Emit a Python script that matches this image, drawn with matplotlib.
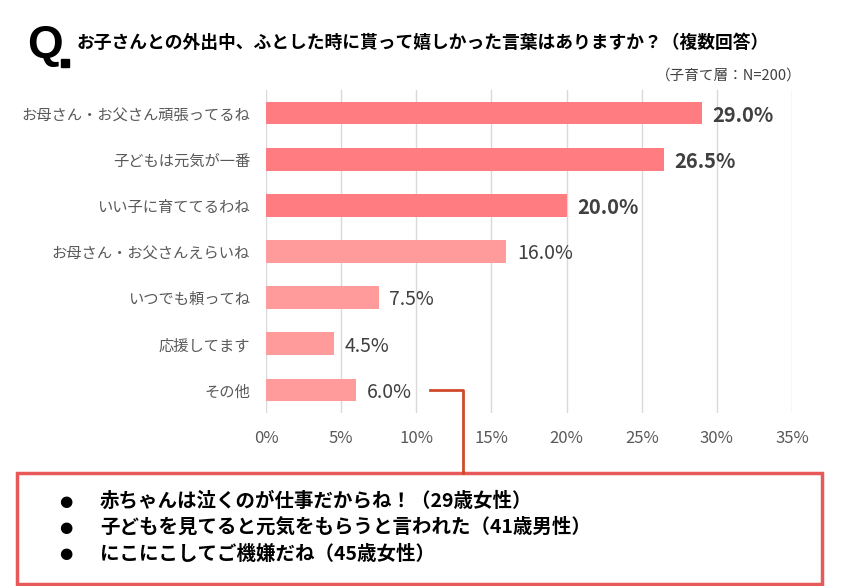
import matplotlib
matplotlib.use("Agg")
import matplotlib.pyplot as plt
from matplotlib.patches import Rectangle
from matplotlib.lines import Line2D

plt.rcParams['font.family'] = ['Noto Sans CJK JP', 'DejaVu Sans']

categories = ["お母さん・お父さん頑張ってるね", "子どもは元気が一番", "いい子に育ててるわね",
              "お母さん・お父さんえらいね", "いつでも頼ってね", "応援してます", "その他"]
values = [29.0, 26.5, 20.0, 16.0, 7.5, 4.5, 6.0]
highlight = [True, True, True, False, False, False, False]
xticks = [0, 5, 10, 15, 20, 25, 30, 35]
title = "お子さんとの外出中、ふとした時に貰って嬉しかった言葉はありますか？（複数回答）"
note = "（子育て層：N=200）"
comments = ["赤ちゃんは泣くのが仕事だからね！（29歳女性）",
            "子どもを見てると元気をもらうと言われた（41歳男性）",
            "にこにこしてご機嫌だね（45歳女性）"]

W, H = 848, 586
fig = plt.figure(figsize=(W/100, H/100), dpi=100)
ax = fig.add_axes([266/W, 1-413/H, 526/W, 323/H])

ypos = list(range(len(categories)))
colors = ["#FF7C80" if h else "#FF9B9B" for h in highlight]
ax.barh(ypos, values, height=0.49, color=colors, zorder=3)
ax.set_ylim(len(categories)-0.5, -0.5)
ax.set_xlim(0, 35)
ax.set_xticks(xticks)
ax.set_xticklabels([f"{t}%" for t in xticks], color="#595959", fontsize=12)
ax.set_yticks(ypos)
ax.set_yticklabels(categories, color="#595959", fontsize=11)
ax.tick_params(axis='both', length=0)
ax.tick_params(axis='y', pad=11.5)
ax.tick_params(axis='x', pad=12)
for s in ax.spines.values():
    s.set_visible(False)
ax.grid(axis='x', color="#D9D9D9", linewidth=1, zorder=0)
ax.set_axisbelow(True)

for y, v, h in zip(ypos, values, highlight):
    ax.text(v + 0.7, y + 0.05, f"{v:.1f}%", va='center', ha='left',
            fontsize=14.5 if h else 14, fontweight='bold' if h else 'normal',
            color="#404040")

# Title
fig.text(27/W, 1-46/H, "Q", fontsize=33, fontweight='bold', color='black',
         family=['Liberation Sans', 'DejaVu Sans'], ha='left', va='center')
fig.patches.append(Rectangle((61/W, 1-67/H), 8/W, 8/H, transform=fig.transFigure,
                             color='black'))
fig.text(77/W, 1-43/H, title, fontsize=12.8, fontweight='bold', color='black',
         ha='left', va='center')
fig.text(802/W, 1-76/H, note, fontsize=10.5, color='#404040', ha='right', va='center')

# Connector line
line_color = "#D04A2A"
fig.lines.append(Line2D([430/W, 463/W, 463/W], [1-390/H, 1-390/H, 1-473/H],
                        transform=fig.transFigure, color=line_color, linewidth=2))

# Comment box
fig.patches.append(Rectangle((17/W, 1-584/H), 805/W, 111/H, transform=fig.transFigure,
                             facecolor='white', edgecolor="#E85A5A", linewidth=2.5))
for i, c in enumerate(comments):
    yy = 1-(501 + i*26.5)/H
    fig.text(59/W, yy, "●", fontsize=11, color='black', ha='left', va='center',
             family=['DejaVu Sans'])
    fig.text(100/W, yy, c, fontsize=14, fontweight='bold', color='black',
             ha='left', va='center')

fig.savefig("out.png", dpi=100)
